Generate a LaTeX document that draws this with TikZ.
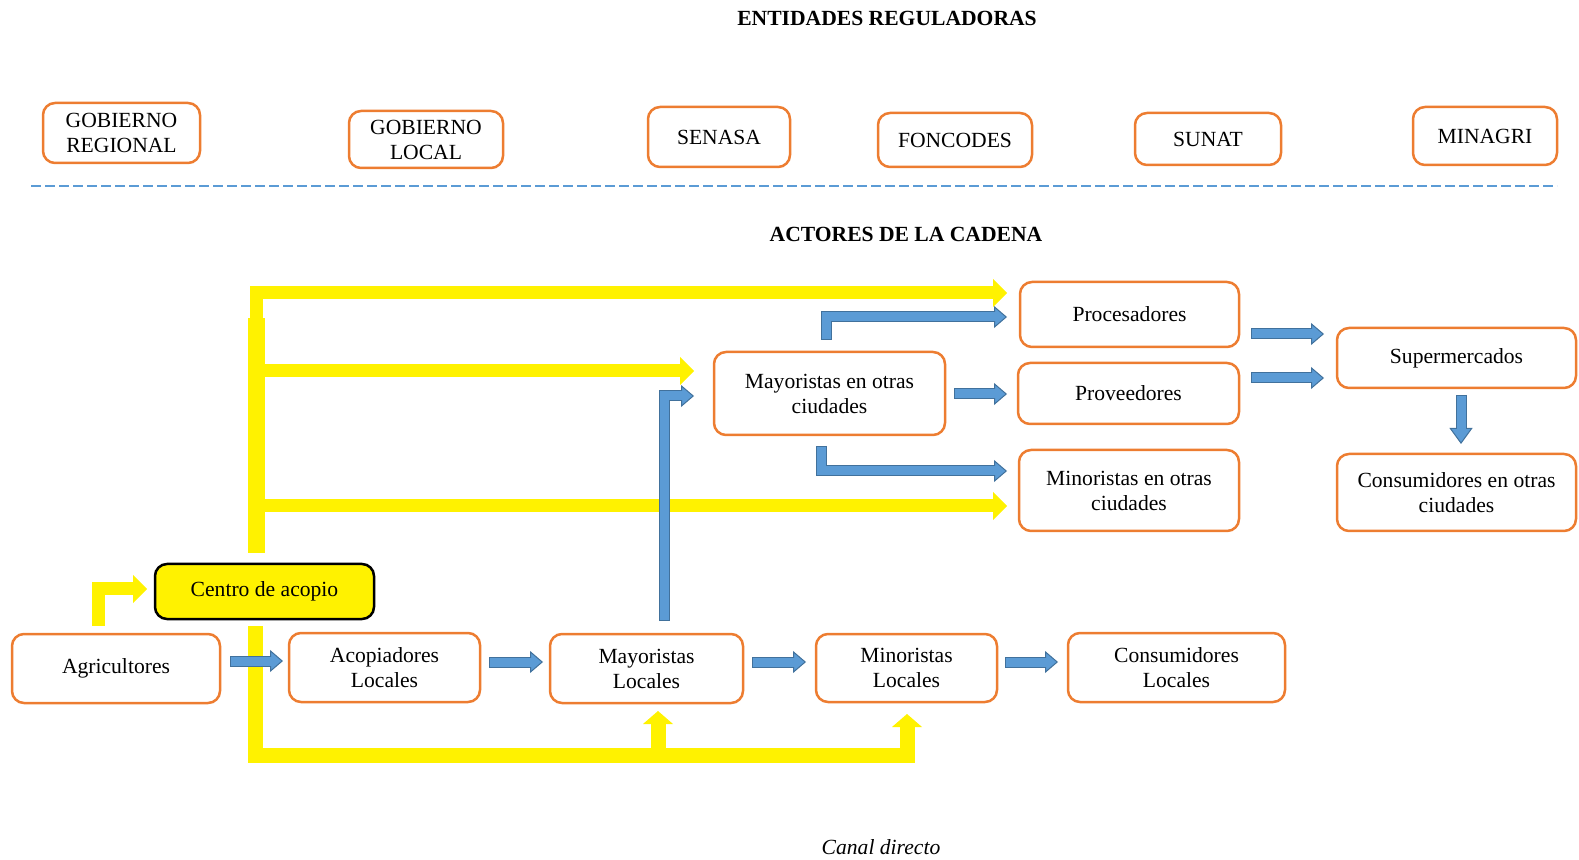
\documentclass[tikz,border=0pt]{standalone}
\usepackage{fontspec}
\setmainfont{Liberation Serif}
\usetikzlibrary{arrows.meta,calc}
\definecolor{boxorange}{HTML}{ED7D31}
\definecolor{flowblue}{HTML}{5B9BD5}
\definecolor{flowline}{HTML}{41719C}
\tikzset{
  actor/.style={draw=boxorange, line width=1.25pt, rounded corners=6pt, align=center,
    inner sep=2pt, outer sep=0pt, font=\fontsize{10.8}{12.5}\selectfont},
  hub/.style={actor, draw=black, fill=yellow},
  heading/.style={font=\fontsize{10.8}{13}\selectfont\bfseries},
  blueflow/.style={draw=flowline, line width=5.5pt, line join=miter,
    -{Triangle[length=6.5pt,width=11pt,line width=0.5pt,fill=flowblue]},
    postaction={draw=flowblue, line width=4.5pt, -, shorten <=0.5pt, shorten >=5.5pt}},
  yellowflow/.style={draw=yellow, line width=6.5pt, line join=miter,
    -{Triangle[length=7pt,width=14pt,line width=0pt]}}
}

\begin{document}
\begin{tikzpicture}[x=0.5pt,y=-0.5pt]
\useasboundingbox (0,0) rectangle (1579,860);
\node[heading] (entidades) at (887,18) {ENTIDADES REGULADORAS};
\node[actor, minimum width=78.5pt, minimum height=30pt] (goreg) at (121.5,133) {GOBIERNO\\REGIONAL};
\node[actor, minimum width=77pt, minimum height=28.5pt] (goloc) at (426,139.5) {GOBIERNO\\LOCAL};
\node[actor, minimum width=71pt, minimum height=30pt] (senasa) at (719,137) {SENASA};
\node[actor, minimum width=77pt, minimum height=27pt] (foncodes) at (955,140) {FONCODES};
\node[actor, minimum width=73pt, minimum height=26pt] (sunat) at (1208,139) {SUNAT};
\node[actor, minimum width=72pt, minimum height=29pt] (minagri) at (1485,136) {MINAGRI};
\draw[flowblue, line width=0.75pt, dash pattern=on 5pt off 2pt] (31,186) -- (1557,186);
\node[heading] (actores) at (906,234) {ACTORES DE LA CADENA};

\node[actor, minimum width=109.5pt, minimum height=32.5pt] (proc) at (1129.5,314.5) {Procesadores};
\node[actor, minimum width=110.5pt, minimum height=30.5pt] (prov) at (1128.5,393.5) {Proveedores};
\node[actor, minimum width=110pt, minimum height=40.5pt] (minot) at (1129,490.5) {Minoristas en otras\\ciudades};
\node[actor, minimum width=119.5pt, minimum height=30pt] (super) at (1456.5,358) {Supermercados};
\node[actor, minimum width=119.5pt, minimum height=38.5pt] (consot) at (1456.5,492.5) {Consumidores en otras\\ciudades};
\node[actor, minimum width=115.5pt, minimum height=41.5pt] (mayot) at (829.5,393.5) {Mayoristas en otras\\ciudades};
\node[hub, minimum width=109.5pt, minimum height=27.5pt] (centro) at (264.5,591.5) {Centro de acopio};
\node[actor, minimum width=104pt, minimum height=34.5pt] (agri) at (116,668.5) {Agricultores};
\node[actor, minimum width=95.5pt, minimum height=34.5pt] (acop) at (384.5,667.5) {Acopiadores\\Locales};
\node[actor, minimum width=96.5pt, minimum height=34.5pt] (mayloc) at (646.5,668.5) {Mayoristas\\Locales};
\node[actor, minimum width=90.5pt, minimum height=34pt] (minloc) at (906.5,668) {Minoristas\\Locales};
\node[actor, minimum width=108.5pt, minimum height=34.5pt] (consloc) at (1176.5,667.5) {Consumidores\\Locales};
\node[font=\fontsize{10.8}{13}\selectfont\itshape] (canal) at (881,847) {Canal directo};

\draw[yellowflow] ($(agri.north)+(-18,-8)$) |- ($(centro.west)+(-8,-2.5)$);
\draw[yellowflow, -, line width=8.5pt] ($(centro.north)+(-8.5,-11)$) -- ($(centro.north)+(-8.5,-246)$);
\draw[yellowflow] ($(centro.north)+(-8.5,-244)$) |- ($(proc.west)+(-13,-21.5)$);
\draw[yellowflow] ($(centro.north)+(-8.5,-193)$) -- ($(mayot.west)+(-20,-22.5)$);
\draw[yellowflow] ($(centro.north)+(-8.5,-58)$) -- ($(minot.west)+(-12,15.5)$);
\draw[yellowflow, line width=7.5pt, -{Triangle[length=6.5pt,width=15pt,line width=0pt]}]
  ($(centro.south)+(-9.5,7)$) |- ($(minloc.south)+(0.5,53)$) -- ($(minloc.south)+(0.5,12)$);
\draw[yellowflow, line width=7.5pt, -{Triangle[length=6.5pt,width=15pt,line width=0pt]}]
  ($(mayloc.south)+(11.5,52)$) -- ($(mayloc.south)+(11.5,8)$);

\draw[blueflow] ($(agri.east)+(10,-7.5)$) -- ($(acop.west)+(-6,-6.5)$);
\draw[blueflow] ($(acop.east)+(9,-5.5)$) -- ($(mayloc.west)+(-7,-6.5)$);
\draw[blueflow] ($(mayloc.east)+(9,-6.5)$) -- ($(minloc.west)+(-10,-6)$);
\draw[blueflow] ($(minloc.east)+(8,-6)$) -- ($(consloc.west)+(-10,-5.5)$);
\draw[blueflow] ($(mayloc.north)+(17.5,-13)$) |- ($(mayot.west)+(-20,2.5)$);
\draw[blueflow] ($(mayot.north)+(-3.5,-12)$) |- ($(proc.west)+(-13,2.5)$);
\draw[blueflow] ($(mayot.east)+(9,0.5)$) -- ($(prov.west)+(-11,0.5)$);
\draw[blueflow] ($(mayot.south)+(-8.5,11)$) |- ($(minot.west)+(-12,-19.5)$);
\draw[blueflow] ($(proc.east)+(12,19.5)$) -- ($(super.west)+(-13,-24)$);
\draw[blueflow] ($(prov.east)+(12,-15.5)$) -- ($(super.west)+(-13,20)$);
\draw[blueflow, -{Triangle[length=8pt,width=11.5pt,line width=0.5pt,fill=flowblue]}]
  ($(super.south)+(4.5,7)$) -- ($(consot.north)+(4.5,-10)$);
\end{tikzpicture}
\end{document}
